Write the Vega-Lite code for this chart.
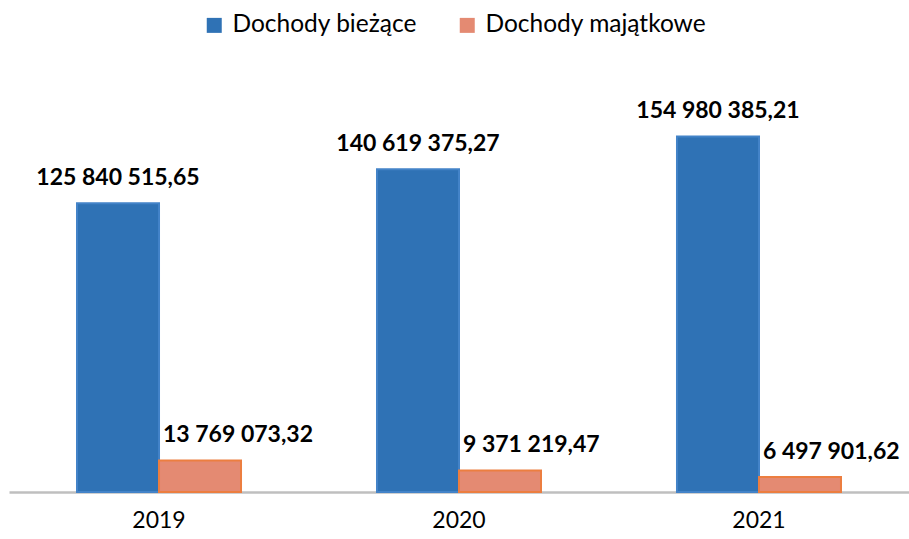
{
  "$schema": "https://vega.github.io/schema/vega-lite/v6.json",
  "autosize": {"type": "none"},
  "width": 900,
  "height": 413,
  "padding": {"left": 9, "top": 79, "right": 0, "bottom": 47},
  "background": "white",
  "config": {
    "view": {"stroke": null},
    "locale": {"number": {"decimal": ",", "thousands": " ", "grouping": [3], "currency": ["", " zł"]}},
    "font": "Lato"
  },
  "data": {
    "values": [
      {"rok": "2019", "seria": "Dochody bieżące", "wartosc": 125840515.65},
      {"rok": "2019", "seria": "Dochody majątkowe", "wartosc": 13769073.32},
      {"rok": "2020", "seria": "Dochody bieżące", "wartosc": 140619375.27},
      {"rok": "2020", "seria": "Dochody majątkowe", "wartosc": 9371219.47},
      {"rok": "2021", "seria": "Dochody bieżące", "wartosc": 154980385.21},
      {"rok": "2021", "seria": "Dochody majątkowe", "wartosc": 6497901.62}
    ]
  },
  "encoding": {
    "x": {
      "field": "rok", "type": "nominal",
      "scale": {"paddingInner": 0.4533, "paddingOuter": 0.2267},
      "axis": {"title": null, "labelAngle": 0, "ticks": false, "labelPadding": 17, "labelFontSize": 23, "labelColor": "#000000", "labelFont": "Lato", "domainColor": "#BFBFBF", "domainWidth": 2.5}
    },
    "xOffset": {"field": "seria", "type": "nominal", "scale": {"paddingInner": 0, "paddingOuter": 0}},
    "y": {
      "field": "wartosc", "type": "quantitative",
      "scale": {"domain": [0, 180000000], "nice": false},
      "axis": null
    }
  },
  "layer": [
    {
      "mark": {"type": "bar", "strokeWidth": 2},
      "encoding": {
        "color": {
          "field": "seria", "type": "nominal",
          "scale": {"domain": ["Dochody bieżące", "Dochody majątkowe"], "range": ["#2F72B5", "#E48A72"]},
          "legend": {
            "title": null, "orient": "none", "direction": "horizontal",
            "legendX": 193, "legendY": -66,
            "symbolType": "square", "symbolSize": 225, "symbolStrokeWidth": 0,
            "labelFontSize": 24.5, "labelFont": "Lato", "labelColor": "#000000", "labelLimit": 400,
            "columnPadding": 38, "labelOffset": 6
          }
        },
        "stroke": {
          "field": "seria", "type": "nominal",
          "scale": {"domain": ["Dochody bieżące", "Dochody majątkowe"], "range": ["#4383C8", "#EC7E40"]},
          "legend": null
        }
      }
    },
    {
      "transform": [{"filter": "datum.seria === 'Dochody bieżące'"}],
      "mark": {"type": "text", "align": "center", "baseline": "alphabetic", "dy": -18, "fontSize": 23, "fontWeight": "bold", "font": "Lato", "color": "#000000"},
      "encoding": {"text": {"field": "wartosc", "type": "quantitative", "format": ",.2f"}}
    },
    {
      "transform": [{"filter": "datum.seria === 'Dochody majątkowe'"}],
      "mark": {"type": "text", "align": "left", "baseline": "alphabetic", "dy": -18, "dx": -37, "fontSize": 23, "fontWeight": "bold", "font": "Lato", "color": "#000000"},
      "encoding": {"text": {"field": "wartosc", "type": "quantitative", "format": ",.2f"}}
    }
  ]
}
